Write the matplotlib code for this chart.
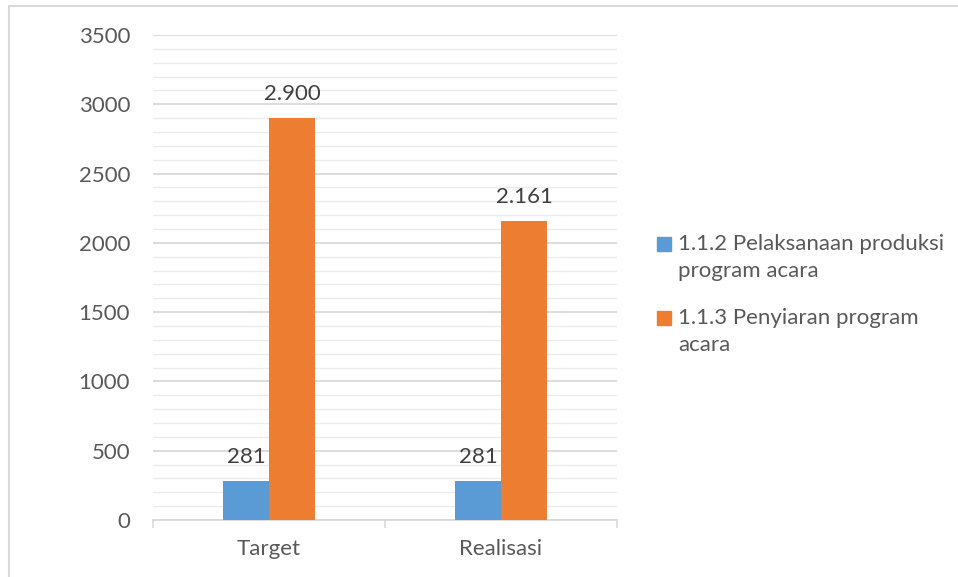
import matplotlib
matplotlib.use("Agg")
import matplotlib.pyplot as plt
from matplotlib.patches import Rectangle
from matplotlib.ticker import MultipleLocator
import numpy as np

categories = ["Target", "Realisasi"]
series_names = ["1.1.2 Pelaksanaan produksi\nprogram acara",
                "1.1.3 Penyiaran program\nacara"]
produksi = [281, 281]
penyiaran = [2900, 2161]
label_produksi = ["281", "281"]
label_penyiaran = ["2.900", "2.161"]
y_ticks = [0, 500, 1000, 1500, 2000, 2500, 3000, 3500]

plt.rcParams['font.family'] = ['Lato', 'DejaVu Sans']
text_color = "#595959"
blue = "#5b9bd5"
orange = "#ed7d31"
FS = 16

fig = plt.figure(figsize=(9.58, 5.77), dpi=100)
ax = fig.add_axes([153/958, 1-520/577, (617-153)/958, (520-35)/577])

x = np.arange(len(categories))
w = 0.198
b1 = ax.bar(x - w/2, produksi, w, color=blue, zorder=3)
b2 = ax.bar(x + w/2, penyiaran, w, color=orange, zorder=3)

for bars, labels in ((b1, label_produksi), (b2, label_penyiaran)):
    for rect, lab in zip(bars, labels):
        ax.annotate(lab, (rect.get_x() + rect.get_width()/2, rect.get_height()),
                    xytext=(0, 10), textcoords="offset points", ha="center", va="bottom",
                    fontsize=FS, color="#404040")

ax.set_xlim(-0.5, 1.5)
ax.set_ylim(0, 3500)
ax.set_yticks(y_ticks)
ax.set_yticklabels([str(v) for v in y_ticks])
ax.yaxis.set_minor_locator(MultipleLocator(100))
ax.grid(axis="y", which="major", color="#d9d9d9", linewidth=1.3, zorder=0)
ax.grid(axis="y", which="minor", color="#ececec", linewidth=1.0, zorder=0)
ax.set_axisbelow(True)

ax.set_xticks(x)
ax.set_xticklabels(categories)
ax.set_xticks([-0.5, 0.5, 1.5], minor=True)
ax.tick_params(axis="x", which="major", length=0, pad=14, labelsize=FS, colors=text_color)
ax.tick_params(axis="x", which="minor", length=6, width=1.2, color="#d9d9d9", direction="out")
ax.tick_params(axis="y", which="both", length=0, pad=16.5, labelsize=FS, colors=text_color)

for s in ["top", "right", "left"]:
    ax.spines[s].set_visible(False)
ax.spines["bottom"].set_color("#d9d9d9")
ax.spines["bottom"].set_linewidth(1.3)

# Legend (square aligned with first text line, as in the original)
H = 577.0
entry_tops = [244, 318]
line_gap = 27
for name, color, y0 in zip(series_names, [blue, orange], entry_tops):
    fig.patches.append(Rectangle((657/958, 1-(y0+7)/H), 14/958, 14/H,
                                 transform=fig.transFigure, color=color))
    for i, line in enumerate(name.split("\n")):
        fig.text(678/958, 1-(y0 + i*line_gap)/H, line, fontsize=FS,
                 color=text_color, ha="left", va="center")

fig.patches.append(Rectangle((8.5/958, -0.1), 1.2, 1 - 5.5/577 + 0.1,
                             transform=fig.transFigure, fill=False,
                             edgecolor="#d9d9d9", linewidth=1.5))

fig.savefig("out.png", dpi=100)
